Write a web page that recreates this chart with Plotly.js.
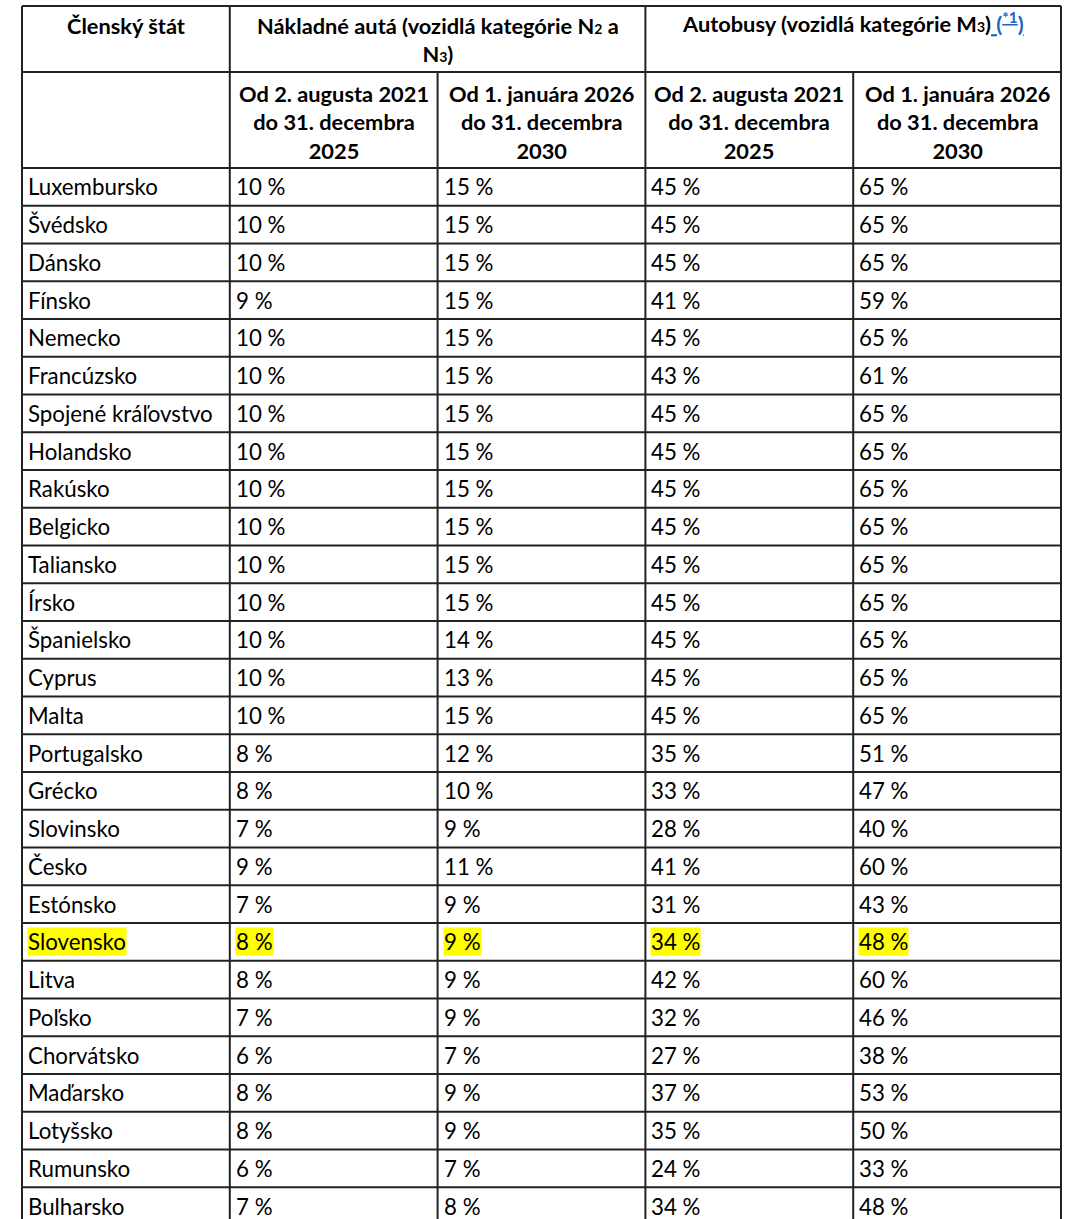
<!DOCTYPE html>
<html>
<head>
<meta charset="utf-8">
<script src="https://cdn.plot.ly/plotly-3.0.1.min.js"></script>
<style>html,body{margin:0;padding:0;background:#fff;}#chart{width:1074px;height:1219px;}</style>
</head>
<body>
<div id="chart"></div>
<script>
// ---- data ----
const countries = ["Luxembursko","Švédsko","Dánsko","Fínsko","Nemecko","Francúzsko","Spojené kráľovstvo","Holandsko","Rakúsko","Belgicko","Taliansko","Írsko","Španielsko","Cyprus","Malta","Portugalsko","Grécko","Slovinsko","Česko","Estónsko","Slovensko","Litva","Poľsko","Chorvátsko","Maďarsko","Lotyšsko","Rumunsko","Bulharsko"];
const trucks2025 = [10,10,10,9,10,10,10,10,10,10,10,10,10,10,10,8,8,7,9,7,8,8,7,6,8,8,6,7];
const trucks2030 = [15,15,15,15,15,15,15,15,15,15,15,15,14,13,15,12,10,9,11,9,9,9,9,7,9,9,7,8];
const buses2025 = [45,45,45,41,45,43,45,45,45,45,45,45,45,45,45,35,33,28,41,31,34,42,32,27,37,35,24,34];
const buses2030 = [65,65,65,59,65,61,65,65,65,65,65,65,65,65,65,51,47,40,60,43,48,60,46,38,53,50,33,48];
const highlighted = ["Slovensko"];
const headerTop = ["Členský štát",
  "Nákladné autá (vozidlá kategórie N<span style='font-size:14px'>2</span> a<br>N<span style='font-size:14px'>3</span>)",
  "Autobusy (vozidlá kategórie M<span style='font-size:14px'>3</span>)<span style='color:#1f63c6;text-decoration:underline'> (<sup>*1</sup>)</span>"];
const periodLabels = ["Od 2. augusta 2021<br>do 31. decembra<br>2025", "Od 1. januára 2026<br>do 31. decembra<br>2030"];

// ---- layout geometry (pixels) ----
const W = 1074, H = 1219;
const tableLeft = 22, tableRight = 1061;
const nCols = 5;
const colW = (tableRight - tableLeft) / nCols;
const topPx = 6, head1Px = 72, head2Px = 168, rowH = 37.75;
const toY = p => (p - head2Px) / rowH;
const xRange = [-tableLeft / colW, (W - tableLeft) / colW];
const yRange = [toY(H), toY(0)];

const FONT = "Lato, Calibri, Carlito, 'Open Sans', sans-serif";
const fs = 22.3, hfs = 21.8;
const lineCol = "#222222";
const padX = 5 / colW;

const annotations = [];
const shapes = [];

// header row 1
const topSpans = [[0,1],[1,3],[3,5]];
const topOffsets = [11, 11, 7];
headerTop.forEach((t, k) => {
  const [a, b] = topSpans[k];
  annotations.push({x:(a+b)/2, y:toY(topOffsets[k]), xref:'x', yref:'y', text:'<b>'+t+'</b>', showarrow:false,
    xanchor:'center', yanchor:'top', align:'center', borderpad:0, font:{family:FONT, size:hfs, color:'#000'}});
});
// header row 2
for (let c = 1; c < nCols; c++) {
  annotations.push({x:c+0.5, y:toY(122), xref:'x', yref:'y', text:'<b>'+periodLabels[(c-1)%2]+'</b>', showarrow:false,
    xanchor:'center', yanchor:'middle', align:'center', borderpad:0, font:{family:FONT, size:hfs, color:'#000'}});
}
// data cells
const columns = [countries, trucks2025.map(v=>v+' %'), trucks2030.map(v=>v+' %'), buses2025.map(v=>v+' %'), buses2030.map(v=>v+' %')];
countries.forEach((name, i) => {
  const hl = highlighted.includes(name);
  columns.forEach((col, c) => {
    annotations.push({x:c+padX, y:i+0.5, xref:'x', yref:'y', text:col[i], showarrow:false,
      xanchor:'left', yanchor:'middle', align:'left', borderpad:0,
      bgcolor: hl ? '#ffff00' : 'rgba(0,0,0,0)',
      font:{family:FONT, size:fs, color:'#000'}});
  });
});

// grid lines
const ln = (x0,y0,x1,y1) => ({type:'line', xref:'x', yref:'y', x0, y0, x1, y1, line:{color:lineCol, width:2}});
const yTop = toY(topPx), yH1 = toY(head1Px), yBottom = countries.length + 1;
shapes.push(ln(0, yTop, nCols, yTop));
shapes.push(ln(0, yH1, nCols, yH1));
for (let i = 0; i <= countries.length; i++) shapes.push(ln(0, i, nCols, i));
[0,1,3,5].forEach(c => shapes.push(ln(c, yTop, c, yBottom)));
[2,4].forEach(c => shapes.push(ln(c, yH1, c, yBottom)));

const layout = {
  width: W, height: H,
  margin: {l:0, r:0, t:0, b:0, pad:0},
  paper_bgcolor: '#fff', plot_bgcolor: '#fff',
  showlegend: false,
  xaxis: {range: xRange, visible:false, fixedrange:true},
  yaxis: {range: yRange, visible:false, fixedrange:true},
  annotations, shapes
};
Plotly.newPlot('chart', [], layout, {staticPlot:true, displayModeBar:false});
</script>
</body>
</html>
